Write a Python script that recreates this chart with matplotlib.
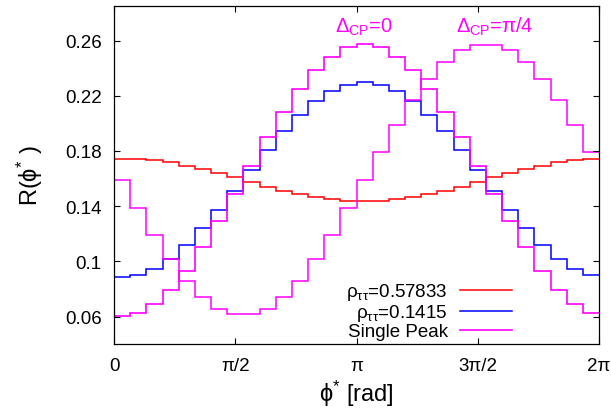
import numpy as np
import matplotlib
matplotlib.use("Agg")
import matplotlib.pyplot as plt

# =========================
# DATA (30 bins over 0..2pi)
# =========================

n_bins = 30

rho_057833 = [0.1744, 0.1742, 0.1734, 0.1719, 0.1694, 0.1670, 0.1641, 0.1612, 0.1578, 0.1542,
              0.1513, 0.1489, 0.1466, 0.1451, 0.1438, 0.1436, 0.1438, 0.1451, 0.1466, 0.1489,
              0.1513, 0.1542, 0.1578, 0.1612, 0.1641, 0.1670, 0.1694, 0.1719, 0.1734, 0.1742]

rho_01415 = [0.0890, 0.0902, 0.0946, 0.1020, 0.1121, 0.1241, 0.1373, 0.1513, 0.1665, 0.1810,
             0.1943, 0.2064, 0.2165, 0.2238, 0.2279, 0.2298, 0.2279, 0.2238, 0.2165, 0.2064,
             0.1943, 0.1810, 0.1665, 0.1513, 0.1373, 0.1241, 0.1121, 0.1020, 0.0946, 0.0902]

single_dcp0 = [0.0607, 0.0630, 0.0694, 0.0795, 0.0932, 0.1103, 0.1291, 0.1489, 0.1694, 0.1900,
               0.2081, 0.2250, 0.2383, 0.2480, 0.2552, 0.2576, 0.2552, 0.2480, 0.2383, 0.2250,
               0.2081, 0.1900, 0.1694, 0.1489, 0.1291, 0.1103, 0.0932, 0.0795, 0.0694, 0.0630]

single_dcp_pi4 = [0.1591, 0.1385, 0.1192, 0.1018, 0.0861, 0.0743, 0.0656, 0.0617, 0.0617, 0.0656,
                  0.0743, 0.0861, 0.1018, 0.1192, 0.1385, 0.1591, 0.1796, 0.1989, 0.2172, 0.2322,
                  0.2443, 0.2535, 0.2571, 0.2571, 0.2535, 0.2443, 0.2322, 0.2172, 0.1989, 0.1796]

xtick_vals = [0, np.pi / 2, np.pi, 3 * np.pi / 2, 2 * np.pi]
xtick_labels = ["0", "π/2", "π", "3π/2", "2π"]
ytick_vals = [0.06, 0.10, 0.14, 0.18, 0.22, 0.26]
ytick_labels = ["0.06", "0.1", "0.14", "0.18", "0.22", "0.26"]

# =========================
# STYLE
# =========================

plt.rcParams["font.family"] = ["Liberation Sans", "DejaVu Sans"]
plt.rcParams["mathtext.fontset"] = "custom"
plt.rcParams["mathtext.rm"] = "Liberation Sans"
plt.rcParams["mathtext.it"] = "Liberation Sans"
plt.rcParams["mathtext.bf"] = "Liberation Sans"

edges = np.linspace(0, 2 * np.pi, n_bins + 1)

# =========================
# PLOT
# =========================

fig = plt.figure(figsize=(6.11, 4.10), dpi=100)
ax = fig.add_axes([0.1866, 0.1585, 0.7938, 0.8244])

ax.stairs(rho_057833, edges, baseline=None, color="#ff0000", lw=1.1, label=r"ρ$_{ττ}$=0.57833")
ax.stairs(rho_01415, edges, baseline=None, color="#0000ff", lw=1.1, label=r"ρ$_{ττ}$=0.1415")
ax.stairs(single_dcp0, edges, baseline=None, color="#ff00ff", lw=1.2, label="Single Peak")
ax.stairs(single_dcp_pi4, edges, baseline=None, color="#ff00ff", lw=1.1)

ax.set_xlim(0, 2 * np.pi)
ax.set_ylim(0.0402, 0.285)

ax.set_xticks(xtick_vals)
ax.set_xticklabels(xtick_labels)
ax.set_yticks(ytick_vals)
ax.set_yticklabels(ytick_labels)

ax.tick_params(direction="in", top=True, right=True, length=4.5, width=0.8,
               labelsize=13.5, pad=9)
for s in ax.spines.values():
    s.set_linewidth(0.9)

ax.set_xlabel(r"ϕ$^{*}$ [rad]", fontsize=17, labelpad=3)
ax.set_ylabel(r"R(ϕ$^{*}$ )", fontsize=17, labelpad=14)

ax.text(2.857, 0.2663, r"Δ$_{\mathrm{CP}}$=0", color="#ff00ff", fontsize=14.5)
ax.text(4.434, 0.2663, r"Δ$_{\mathrm{CP}}$=π/4", color="#ff00ff", fontsize=14.5)

ax.legend(loc="lower right", bbox_to_anchor=(0.829, 0.0), frameon=False,
          markerfirst=False, fontsize=13.5, handlelength=2.8, handletextpad=0.65,
          labelspacing=0.0, borderpad=0.0, borderaxespad=0.2)

plt.savefig("out.png", dpi=100)
